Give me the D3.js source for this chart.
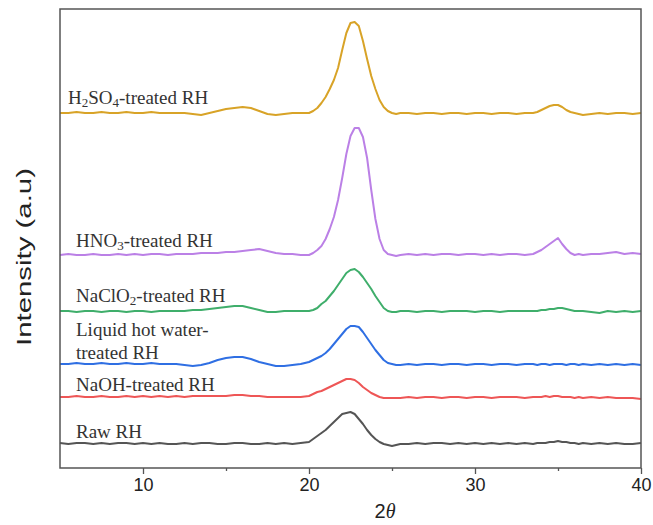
<!DOCTYPE html>
<html>
<head>
<meta charset="utf-8">
<script src="https://cdn.jsdelivr.net/npm/d3@7"></script>
<style>
  body { margin: 0; background: #fff; }
  .tick text { font-family: "Liberation Sans", Arial, sans-serif; font-size: 18px; fill: #222; }
  .tick line { stroke: #555; stroke-width: 1.3; }
  .label { font-family: "Liberation Serif", "Times New Roman", serif; font-size: 19px; fill: #333; }
</style>
</head>
<body>
<svg id="xrd"></svg>
<script>
// 2theta sampling (denser round the peaks)
const twoTheta = [
  5, 5.5, 6, 6.5, 7, 7.5, 8, 8.5, 9, 9.5, 10, 10.5, 11, 11.5, 12, 12.5, 13, 13.5, 14, 14.5,
  15, 15.5, 16, 16.5, 17, 17.5, 18, 18.5, 19, 19.5,
  20, 20.25, 20.5, 20.75, 21, 21.25, 21.5, 21.75, 22, 22.25, 22.5, 22.75, 23, 23.25, 23.5, 23.75,
  24, 24.25, 24.5, 24.75, 25, 25.25, 25.5,
  26, 26.5, 27, 27.5, 28, 28.5, 29, 29.5, 30, 30.5, 31, 31.5, 32, 32.5, 33,
  33.5, 33.75, 34, 34.25, 34.5, 34.75, 35, 35.25, 35.5, 35.75, 36, 36.25, 36.5,
  37, 37.5, 38, 38.5, 39, 39.5, 40
];

// stacked intensities (a.u.), one array per sample
const rawRH = [
  25, 24, 25, 25, 24, 25, 24, 25, 25, 24, 25, 24, 25, 24, 24, 25, 24, 25, 25, 24,
  24, 25, 25, 24, 24, 25, 24, 25, 24, 25,
  26, 29, 32, 35, 38, 42, 46, 50, 54, 55, 56, 54, 49, 44, 38, 33,
  29, 26, 24, 23, 22, 23, 24,
  24, 25, 24, 25, 25, 24, 25, 24, 25, 24, 25, 24, 25, 24, 25,
  24, 25, 25, 25, 26, 26, 27, 26, 26, 25, 25, 24, 25,
  24, 25, 24, 25, 24, 24, 25
];
const naohRH = [
  71, 71, 72, 71, 71, 72, 71, 71, 72, 71, 72, 71, 72, 71, 72, 71, 72, 72, 72, 72,
  72, 73, 73, 72, 72, 71, 71, 71, 71, 71,
  72, 74, 76, 77, 79, 81, 83, 85, 87, 89, 89, 88, 85, 81, 78, 75,
  73, 71, 70, 70, 70, 70, 70,
  71, 70, 71, 71, 70, 71, 71, 70, 71, 71, 70, 71, 71, 71, 70,
  71, 71, 71, 72, 71, 72, 72, 71, 71, 71, 70, 71, 70,
  71, 70, 71, 70, 70, 70, 69
];
const lhwRH = [
  104, 104, 105, 104, 104, 105, 104, 104, 105, 104, 104, 105, 104, 104, 104, 103, 102, 103, 105, 108,
  110, 111, 111, 109, 106, 104, 102, 102, 103, 104,
  106, 108, 110, 112, 115, 119, 124, 129, 134, 139, 142, 142, 141, 136, 130, 124,
  118, 113, 108, 105, 104, 103, 103,
  104, 103, 104, 104, 103, 104, 104, 103, 104, 104, 103, 104, 104, 103, 104,
  104, 103, 104, 104, 103, 104, 104, 104, 103, 104, 104, 103, 104,
  103, 104, 103, 104, 103, 104, 103
];
const naclo2RH = [
  157, 157, 156, 157, 157, 156, 157, 157, 156, 157, 157, 156, 157, 157, 157, 157, 158, 158, 159, 160,
  161, 162, 162, 160, 158, 156, 156, 157, 157, 157,
  157, 158, 160, 164, 167, 172, 177, 183, 189, 195, 198, 199, 196, 191, 185, 179,
  172, 166, 160, 157, 156, 156, 157,
  157, 156, 157, 157, 156, 157, 157, 157, 156, 157, 157, 156, 157, 157, 157,
  157, 157, 158, 158, 159, 159, 160, 160, 159, 158, 157, 157, 157,
  156, 155, 157, 156, 157, 156, 157
];
const hno3RH = [
  213, 214, 213, 213, 214, 213, 213, 214, 213, 214, 213, 214, 214, 213, 214, 214, 214, 215, 215, 215,
  216, 216, 217, 218, 219, 217, 215, 214, 214, 213,
  213, 215, 218, 222, 229, 239, 251, 268, 290, 314, 332, 340, 340, 331, 310, 278,
  249, 229, 218, 214, 213, 212, 213,
  214, 213, 214, 213, 214, 214, 213, 214, 214, 213, 214, 213, 214, 214, 213,
  214, 216, 218, 221, 224, 227, 230, 224, 219, 215, 213, 214, 213,
  214, 214, 215, 216, 214, 215, 214
];
const h2so4RH = [
  355, 355, 356, 355, 355, 356, 355, 355, 356, 355, 355, 356, 355, 355, 355, 355, 354, 353, 355, 357,
  359, 360, 361, 360, 357, 354, 353, 354, 355, 355,
  355, 357, 360, 365, 371, 379, 388, 400, 418, 435, 445, 446, 442, 427, 409, 392,
  379, 368, 361, 357, 355, 354, 355,
  355, 354, 355, 355, 354, 355, 355, 354, 355, 355, 354, 355, 355, 354, 355,
  355, 356, 358, 360, 362, 363, 363, 361, 358, 356, 355, 354, 353,
  354, 355, 354, 355, 355, 354, 355
];

const seriesNames = ["Raw RH", "NaOH", "LHW", "NaClO2", "HNO3", "H2SO4"];
const seriesValues = [rawRH, naohRH, lhwRH, naclo2RH, hno3RH, h2so4RH];
const seriesColors = ["#555555", "#ee5656", "#2f6fe3", "#3fae6b", "#bb80e6", "#d8a327"];

const xTicks = [10, 20, 30, 40];
const xMinorTicks = [15, 25, 35];

// label pieces: [text, isSubscript]
const labelParts = [
  [["Raw RH", false]],
  [["NaOH-treated RH", false]],
  [["Liquid hot water-", false]],
  [["treated RH", false]],
  [["NaClO", false], ["2", true], ["-treated RH", false]],
  [["HNO", false], ["3", true], ["-treated RH", false]],
  [["H", false], ["2", true], ["SO", false], ["4", true], ["-treated RH", false]]
];
const labelX = [76, 76, 76, 76, 76, 76, 68];
const labelY = [438, 391, 336, 359, 302, 247, 104];

const margin = { top: 9, right: 12, bottom: 57, left: 60 },
  width = 653 - margin.left - margin.right,
  height = 525 - margin.top - margin.bottom;

const svg = d3
  .select("#xrd")
  .attr("width", 653)
  .attr("height", 525)
  .append("g")
  .attr("transform", "translate(" + margin.left + "," + margin.top + ")");

const x = d3.scaleLinear().domain([5, 40]).range([0, width]);
const y = d3.scaleLinear().domain([0, height]).range([height, 0]);

const line = d3
  .line()
  .x((d) => x(d[0]))
  .y((d) => y(d[1]));

seriesValues.forEach((vals, i) => {
  svg
    .append("path")
    .datum(twoTheta.map((t, j) => [t, vals[j]]))
    .attr("fill", "none")
    .attr("stroke", seriesColors[i])
    .attr("stroke-width", 2)
    .attr("stroke-linejoin", "round")
    .attr("d", line);
});

// minor ticks
svg
  .append("g")
  .attr("transform", "translate(0," + height + ")")
  .call(d3.axisBottom(x).tickValues(xMinorTicks).tickSize(3).tickFormat(""))
  .call((g) => g.select(".domain").remove());

svg
  .append("g")
  .attr("transform", "translate(0," + height + ")")
  .call(d3.axisBottom(x).tickValues(xTicks).tickSize(6).tickPadding(4))
  .call((g) => g.select(".domain").remove());

// frame
svg
  .append("rect")
  .attr("width", width)
  .attr("height", height)
  .attr("fill", "none")
  .attr("stroke", "#555")
  .attr("stroke-width", 1.5);

labelParts.forEach((parts, i) => {
  const t = svg
    .append("text")
    .attr("class", "label")
    .attr("x", labelX[i] - margin.left)
    .attr("y", labelY[i] - margin.top);
  let shifted = false;
  parts.forEach(([s, sub]) => {
    const sp = t.append("tspan").text(s);
    if (sub && !shifted) {
      sp.attr("dy", 3).style("font-size", "13px");
      shifted = true;
    } else if (!sub && shifted) {
      sp.attr("dy", -3);
      shifted = false;
    }
  });
});

svg
  .append("text")
  .attr("text-anchor", "middle")
  .attr("transform", "rotate(-90)")
  .attr("x", -(257 - margin.top))
  .attr("y", 31 - margin.left)
  .attr("textLength", 178)
  .attr("lengthAdjust", "spacingAndGlyphs")
  .style("font-family", '"Liberation Sans", Arial, sans-serif')
  .style("font-size", "21px")
  .style("fill", "#222")
  .text("Intensity (a.u)");

const xLabel = svg
  .append("text")
  .attr("text-anchor", "middle")
  .attr("x", 385 - margin.left)
  .attr("y", 518 - margin.top)
  .style("font-family", '"Liberation Sans", Arial, sans-serif')
  .style("font-size", "20px")
  .style("fill", "#222");
xLabel.append("tspan").text("2");
xLabel
  .append("tspan")
  .style("font-family", '"Liberation Serif", "Times New Roman", serif')
  .style("font-style", "italic")
  .text("θ");
</script>
</body>
</html>
